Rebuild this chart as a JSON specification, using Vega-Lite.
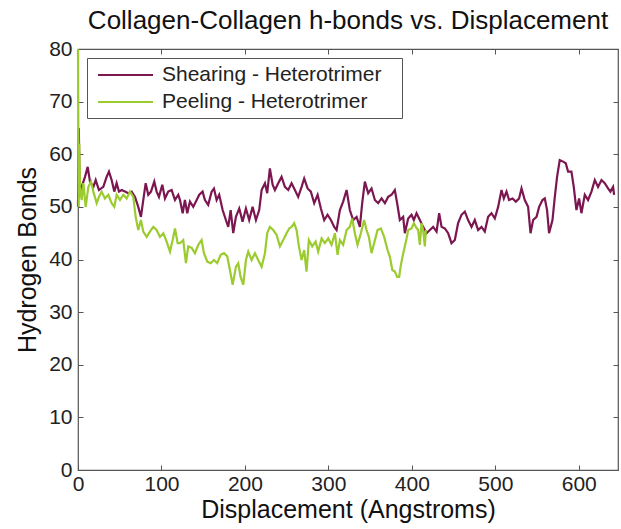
{
  "$schema": "https://vega.github.io/schema/vega-lite/v6.json",
  "width": 540,
  "height": 421,
  "autosize": "none",
  "padding": {"left": 78, "top": 49, "right": 3, "bottom": 59},
  "background": "white",
  "title": {
    "text": "Collagen-Collagen h-bonds vs. Displacement",
    "font": "Liberation Sans",
    "fontSize": 26,
    "fontWeight": "normal",
    "color": "#111",
    "anchor": "middle",
    "baseline": "bottom",
    "offset": 12,
    "dy": 34
  },
  "config": {
    "view": {"stroke": "#555", "strokeWidth": 1.2},
    "axis": {
      "grid": false,
      "domain": false,
      "labelFlush": false,
      "tickColor": "#555",
      "tickSize": -5,
      "labelFont": "Liberation Sans",
      "labelFontSize": 21,
      "labelColor": "#222",
      "titleFont": "Liberation Sans",
      "titleFontSize": 25,
      "titleFontWeight": "normal",
      "titleColor": "#111"
    }
  },
  "datasets": {
    "hb": [
      {"series": "Shearing - Heterotrimer", "x": 0, "y": 50},
      {"series": "Shearing - Heterotrimer", "x": 1, "y": 65},
      {"series": "Shearing - Heterotrimer", "x": 2, "y": 52},
      {"series": "Shearing - Heterotrimer", "x": 4.4, "y": 53.8},
      {"series": "Shearing - Heterotrimer", "x": 8.4, "y": 55.7},
      {"series": "Shearing - Heterotrimer", "x": 11.6, "y": 57.6},
      {"series": "Shearing - Heterotrimer", "x": 14.4, "y": 54.8},
      {"series": "Shearing - Heterotrimer", "x": 18.4, "y": 53.8},
      {"series": "Shearing - Heterotrimer", "x": 21.2, "y": 55.1},
      {"series": "Shearing - Heterotrimer", "x": 25.1, "y": 53.2},
      {"series": "Shearing - Heterotrimer", "x": 30.3, "y": 53.8},
      {"series": "Shearing - Heterotrimer", "x": 34.3, "y": 55.7},
      {"series": "Shearing - Heterotrimer", "x": 37.1, "y": 56.7},
      {"series": "Shearing - Heterotrimer", "x": 40.3, "y": 55.1},
      {"series": "Shearing - Heterotrimer", "x": 43.5, "y": 52.9},
      {"series": "Shearing - Heterotrimer", "x": 46.3, "y": 54.5},
      {"series": "Shearing - Heterotrimer", "x": 49.1, "y": 52.9},
      {"series": "Shearing - Heterotrimer", "x": 52.3, "y": 53.2},
      {"series": "Shearing - Heterotrimer", "x": 56.3, "y": 52.9},
      {"series": "Shearing - Heterotrimer", "x": 60.2, "y": 52.6},
      {"series": "Shearing - Heterotrimer", "x": 64.3, "y": 52.9},
      {"series": "Shearing - Heterotrimer", "x": 68.3, "y": 51.9},
      {"series": "Shearing - Heterotrimer", "x": 72.2, "y": 50.0},
      {"series": "Shearing - Heterotrimer", "x": 75.4, "y": 48.1},
      {"series": "Shearing - Heterotrimer", "x": 78.2, "y": 51.3},
      {"series": "Shearing - Heterotrimer", "x": 81.1, "y": 54.5},
      {"series": "Shearing - Heterotrimer", "x": 84.2, "y": 52.3},
      {"series": "Shearing - Heterotrimer", "x": 87.4, "y": 52.9},
      {"series": "Shearing - Heterotrimer", "x": 91.4, "y": 54.8},
      {"series": "Shearing - Heterotrimer", "x": 94.2, "y": 52.9},
      {"series": "Shearing - Heterotrimer", "x": 97.0, "y": 51.9},
      {"series": "Shearing - Heterotrimer", "x": 101.0, "y": 54.2},
      {"series": "Shearing - Heterotrimer", "x": 104.2, "y": 51.6},
      {"series": "Shearing - Heterotrimer", "x": 108.1, "y": 52.9},
      {"series": "Shearing - Heterotrimer", "x": 112.2, "y": 53.2},
      {"series": "Shearing - Heterotrimer", "x": 116.2, "y": 51.3},
      {"series": "Shearing - Heterotrimer", "x": 120.1, "y": 52.3},
      {"series": "Shearing - Heterotrimer", "x": 122.2, "y": 51.3},
      {"series": "Shearing - Heterotrimer", "x": 125.4, "y": 48.8},
      {"series": "Shearing - Heterotrimer", "x": 128.1, "y": 51.3},
      {"series": "Shearing - Heterotrimer", "x": 130.9, "y": 48.8},
      {"series": "Shearing - Heterotrimer", "x": 134.1, "y": 51.0},
      {"series": "Shearing - Heterotrimer", "x": 138.1, "y": 50.0},
      {"series": "Shearing - Heterotrimer", "x": 142.2, "y": 51.3},
      {"series": "Shearing - Heterotrimer", "x": 145.3, "y": 52.3},
      {"series": "Shearing - Heterotrimer", "x": 149.3, "y": 52.9},
      {"series": "Shearing - Heterotrimer", "x": 152.1, "y": 51.3},
      {"series": "Shearing - Heterotrimer", "x": 156.0, "y": 50.4},
      {"series": "Shearing - Heterotrimer", "x": 160.1, "y": 52.9},
      {"series": "Shearing - Heterotrimer", "x": 162.9, "y": 53.5},
      {"series": "Shearing - Heterotrimer", "x": 166.1, "y": 51.3},
      {"series": "Shearing - Heterotrimer", "x": 169.2, "y": 52.3},
      {"series": "Shearing - Heterotrimer", "x": 173.3, "y": 49.4},
      {"series": "Shearing - Heterotrimer", "x": 177.2, "y": 47.5},
      {"series": "Shearing - Heterotrimer", "x": 180.0, "y": 46.2},
      {"series": "Shearing - Heterotrimer", "x": 182.9, "y": 49.4},
      {"series": "Shearing - Heterotrimer", "x": 186.0, "y": 45.0},
      {"series": "Shearing - Heterotrimer", "x": 189.2, "y": 48.1},
      {"series": "Shearing - Heterotrimer", "x": 193.2, "y": 49.7},
      {"series": "Shearing - Heterotrimer", "x": 197.2, "y": 47.2},
      {"series": "Shearing - Heterotrimer", "x": 201.2, "y": 49.7},
      {"series": "Shearing - Heterotrimer", "x": 205.1, "y": 47.5},
      {"series": "Shearing - Heterotrimer", "x": 209.2, "y": 50.0},
      {"series": "Shearing - Heterotrimer", "x": 213.2, "y": 47.5},
      {"series": "Shearing - Heterotrimer", "x": 217.1, "y": 49.4},
      {"series": "Shearing - Heterotrimer", "x": 220.0, "y": 53.2},
      {"series": "Shearing - Heterotrimer", "x": 224.0, "y": 54.5},
      {"series": "Shearing - Heterotrimer", "x": 226.7, "y": 52.6},
      {"series": "Shearing - Heterotrimer", "x": 229.9, "y": 57.3},
      {"series": "Shearing - Heterotrimer", "x": 233.2, "y": 54.2},
      {"series": "Shearing - Heterotrimer", "x": 235.9, "y": 53.2},
      {"series": "Shearing - Heterotrimer", "x": 239.9, "y": 54.5},
      {"series": "Shearing - Heterotrimer", "x": 243.9, "y": 55.7},
      {"series": "Shearing - Heterotrimer", "x": 247.9, "y": 53.8},
      {"series": "Shearing - Heterotrimer", "x": 251.9, "y": 53.2},
      {"series": "Shearing - Heterotrimer", "x": 255.9, "y": 54.5},
      {"series": "Shearing - Heterotrimer", "x": 259.9, "y": 53.2},
      {"series": "Shearing - Heterotrimer", "x": 263.8, "y": 51.9},
      {"series": "Shearing - Heterotrimer", "x": 267.9, "y": 53.8},
      {"series": "Shearing - Heterotrimer", "x": 271.0, "y": 55.4},
      {"series": "Shearing - Heterotrimer", "x": 275.1, "y": 53.5},
      {"series": "Shearing - Heterotrimer", "x": 279.0, "y": 52.9},
      {"series": "Shearing - Heterotrimer", "x": 283.0, "y": 50.7},
      {"series": "Shearing - Heterotrimer", "x": 287.1, "y": 52.3},
      {"series": "Shearing - Heterotrimer", "x": 291.0, "y": 49.7},
      {"series": "Shearing - Heterotrimer", "x": 295.0, "y": 47.5},
      {"series": "Shearing - Heterotrimer", "x": 299.0, "y": 48.5},
      {"series": "Shearing - Heterotrimer", "x": 303.0, "y": 47.5},
      {"series": "Shearing - Heterotrimer", "x": 307.0, "y": 46.2},
      {"series": "Shearing - Heterotrimer", "x": 309.8, "y": 45.6},
      {"series": "Shearing - Heterotrimer", "x": 313.8, "y": 49.4},
      {"series": "Shearing - Heterotrimer", "x": 317.7, "y": 51.0},
      {"series": "Shearing - Heterotrimer", "x": 321.8, "y": 53.2},
      {"series": "Shearing - Heterotrimer", "x": 325.7, "y": 49.4},
      {"series": "Shearing - Heterotrimer", "x": 329.7, "y": 47.5},
      {"series": "Shearing - Heterotrimer", "x": 333.8, "y": 48.1},
      {"series": "Shearing - Heterotrimer", "x": 337.7, "y": 46.2},
      {"series": "Shearing - Heterotrimer", "x": 340.5, "y": 50.7},
      {"series": "Shearing - Heterotrimer", "x": 343.7, "y": 54.8},
      {"series": "Shearing - Heterotrimer", "x": 347.7, "y": 52.6},
      {"series": "Shearing - Heterotrimer", "x": 351.7, "y": 53.5},
      {"series": "Shearing - Heterotrimer", "x": 355.7, "y": 51.3},
      {"series": "Shearing - Heterotrimer", "x": 359.6, "y": 50.7},
      {"series": "Shearing - Heterotrimer", "x": 363.7, "y": 51.6},
      {"series": "Shearing - Heterotrimer", "x": 367.7, "y": 50.7},
      {"series": "Shearing - Heterotrimer", "x": 371.6, "y": 51.9},
      {"series": "Shearing - Heterotrimer", "x": 375.7, "y": 52.3},
      {"series": "Shearing - Heterotrimer", "x": 379.6, "y": 53.2},
      {"series": "Shearing - Heterotrimer", "x": 382.4, "y": 50.7},
      {"series": "Shearing - Heterotrimer", "x": 385.6, "y": 47.5},
      {"series": "Shearing - Heterotrimer", "x": 389.6, "y": 48.1},
      {"series": "Shearing - Heterotrimer", "x": 391.6, "y": 45.0},
      {"series": "Shearing - Heterotrimer", "x": 395.6, "y": 47.8},
      {"series": "Shearing - Heterotrimer", "x": 399.6, "y": 48.5},
      {"series": "Shearing - Heterotrimer", "x": 402.4, "y": 47.5},
      {"series": "Shearing - Heterotrimer", "x": 405.6, "y": 48.8},
      {"series": "Shearing - Heterotrimer", "x": 409.6, "y": 47.5},
      {"series": "Shearing - Heterotrimer", "x": 413.5, "y": 46.2},
      {"series": "Shearing - Heterotrimer", "x": 417.6, "y": 45.0},
      {"series": "Shearing - Heterotrimer", "x": 421.6, "y": 45.6},
      {"series": "Shearing - Heterotrimer", "x": 425.5, "y": 46.2},
      {"series": "Shearing - Heterotrimer", "x": 429.6, "y": 45.3},
      {"series": "Shearing - Heterotrimer", "x": 432.7, "y": 48.8},
      {"series": "Shearing - Heterotrimer", "x": 435.6, "y": 46.2},
      {"series": "Shearing - Heterotrimer", "x": 439.5, "y": 45.9},
      {"series": "Shearing - Heterotrimer", "x": 443.5, "y": 45.0},
      {"series": "Shearing - Heterotrimer", "x": 447.5, "y": 43.1},
      {"series": "Shearing - Heterotrimer", "x": 451.5, "y": 43.7},
      {"series": "Shearing - Heterotrimer", "x": 455.4, "y": 46.9},
      {"series": "Shearing - Heterotrimer", "x": 459.5, "y": 48.5},
      {"series": "Shearing - Heterotrimer", "x": 463.5, "y": 49.1},
      {"series": "Shearing - Heterotrimer", "x": 467.4, "y": 47.5},
      {"series": "Shearing - Heterotrimer", "x": 471.5, "y": 46.2},
      {"series": "Shearing - Heterotrimer", "x": 475.4, "y": 47.5},
      {"series": "Shearing - Heterotrimer", "x": 479.4, "y": 45.6},
      {"series": "Shearing - Heterotrimer", "x": 483.5, "y": 46.2},
      {"series": "Shearing - Heterotrimer", "x": 487.4, "y": 45.3},
      {"series": "Shearing - Heterotrimer", "x": 491.4, "y": 48.1},
      {"series": "Shearing - Heterotrimer", "x": 495.4, "y": 48.8},
      {"series": "Shearing - Heterotrimer", "x": 499.4, "y": 47.8},
      {"series": "Shearing - Heterotrimer", "x": 503.4, "y": 50.0},
      {"series": "Shearing - Heterotrimer", "x": 507.4, "y": 53.2},
      {"series": "Shearing - Heterotrimer", "x": 510.2, "y": 51.6},
      {"series": "Shearing - Heterotrimer", "x": 513.4, "y": 52.9},
      {"series": "Shearing - Heterotrimer", "x": 516.5, "y": 51.3},
      {"series": "Shearing - Heterotrimer", "x": 520.6, "y": 51.6},
      {"series": "Shearing - Heterotrimer", "x": 524.6, "y": 51.0},
      {"series": "Shearing - Heterotrimer", "x": 528.5, "y": 51.6},
      {"series": "Shearing - Heterotrimer", "x": 531.4, "y": 53.5},
      {"series": "Shearing - Heterotrimer", "x": 535.3, "y": 51.3},
      {"series": "Shearing - Heterotrimer", "x": 539.3, "y": 50.0},
      {"series": "Shearing - Heterotrimer", "x": 542.2, "y": 45.0},
      {"series": "Shearing - Heterotrimer", "x": 545.3, "y": 47.5},
      {"series": "Shearing - Heterotrimer", "x": 549.4, "y": 48.1},
      {"series": "Shearing - Heterotrimer", "x": 552.5, "y": 50.0},
      {"series": "Shearing - Heterotrimer", "x": 556.5, "y": 51.3},
      {"series": "Shearing - Heterotrimer", "x": 559.3, "y": 51.6},
      {"series": "Shearing - Heterotrimer", "x": 562.0, "y": 49.4},
      {"series": "Shearing - Heterotrimer", "x": 564.4, "y": 45.0},
      {"series": "Shearing - Heterotrimer", "x": 568.5, "y": 47.5},
      {"series": "Shearing - Heterotrimer", "x": 571.3, "y": 51.9},
      {"series": "Shearing - Heterotrimer", "x": 574.0, "y": 55.7},
      {"series": "Shearing - Heterotrimer", "x": 577.2, "y": 58.9},
      {"series": "Shearing - Heterotrimer", "x": 581.2, "y": 58.6},
      {"series": "Shearing - Heterotrimer", "x": 584.4, "y": 58.3},
      {"series": "Shearing - Heterotrimer", "x": 587.2, "y": 56.7},
      {"series": "Shearing - Heterotrimer", "x": 591.2, "y": 56.7},
      {"series": "Shearing - Heterotrimer", "x": 594.0, "y": 53.8},
      {"series": "Shearing - Heterotrimer", "x": 597.2, "y": 49.4},
      {"series": "Shearing - Heterotrimer", "x": 600.4, "y": 51.6},
      {"series": "Shearing - Heterotrimer", "x": 603.2, "y": 48.8},
      {"series": "Shearing - Heterotrimer", "x": 607.2, "y": 52.3},
      {"series": "Shearing - Heterotrimer", "x": 611.1, "y": 51.3},
      {"series": "Shearing - Heterotrimer", "x": 615.2, "y": 52.9},
      {"series": "Shearing - Heterotrimer", "x": 619.2, "y": 55.1},
      {"series": "Shearing - Heterotrimer", "x": 623.1, "y": 53.8},
      {"series": "Shearing - Heterotrimer", "x": 627.2, "y": 55.1},
      {"series": "Shearing - Heterotrimer", "x": 631.1, "y": 54.5},
      {"series": "Shearing - Heterotrimer", "x": 635.1, "y": 53.5},
      {"series": "Shearing - Heterotrimer", "x": 637.9, "y": 52.9},
      {"series": "Shearing - Heterotrimer", "x": 641.1, "y": 53.8},
      {"series": "Shearing - Heterotrimer", "x": 642.3, "y": 52.3},
      {"series": "Peeling - Heterotrimer", "x": 0, "y": 80},
      {"series": "Peeling - Heterotrimer", "x": 0.8, "y": 50},
      {"series": "Peeling - Heterotrimer", "x": 1.5, "y": 62},
      {"series": "Peeling - Heterotrimer", "x": 2.4, "y": 53.8},
      {"series": "Peeling - Heterotrimer", "x": 4.4, "y": 51.3},
      {"series": "Peeling - Heterotrimer", "x": 6.4, "y": 54.5},
      {"series": "Peeling - Heterotrimer", "x": 9.2, "y": 50.0},
      {"series": "Peeling - Heterotrimer", "x": 12.4, "y": 53.8},
      {"series": "Peeling - Heterotrimer", "x": 15.6, "y": 54.8},
      {"series": "Peeling - Heterotrimer", "x": 18.4, "y": 52.9},
      {"series": "Peeling - Heterotrimer", "x": 22.4, "y": 50.7},
      {"series": "Peeling - Heterotrimer", "x": 25.1, "y": 51.9},
      {"series": "Peeling - Heterotrimer", "x": 28.3, "y": 52.9},
      {"series": "Peeling - Heterotrimer", "x": 32.3, "y": 51.6},
      {"series": "Peeling - Heterotrimer", "x": 36.3, "y": 52.3},
      {"series": "Peeling - Heterotrimer", "x": 40.3, "y": 50.7},
      {"series": "Peeling - Heterotrimer", "x": 43.5, "y": 50.0},
      {"series": "Peeling - Heterotrimer", "x": 46.3, "y": 52.3},
      {"series": "Peeling - Heterotrimer", "x": 50.3, "y": 51.3},
      {"series": "Peeling - Heterotrimer", "x": 54.3, "y": 52.3},
      {"series": "Peeling - Heterotrimer", "x": 58.3, "y": 51.6},
      {"series": "Peeling - Heterotrimer", "x": 62.3, "y": 52.9},
      {"series": "Peeling - Heterotrimer", "x": 66.2, "y": 51.9},
      {"series": "Peeling - Heterotrimer", "x": 69.1, "y": 48.1},
      {"series": "Peeling - Heterotrimer", "x": 72.2, "y": 45.6},
      {"series": "Peeling - Heterotrimer", "x": 75.4, "y": 47.5},
      {"series": "Peeling - Heterotrimer", "x": 78.2, "y": 45.3},
      {"series": "Peeling - Heterotrimer", "x": 82.3, "y": 44.3},
      {"series": "Peeling - Heterotrimer", "x": 86.2, "y": 45.3},
      {"series": "Peeling - Heterotrimer", "x": 90.2, "y": 46.2},
      {"series": "Peeling - Heterotrimer", "x": 94.2, "y": 45.6},
      {"series": "Peeling - Heterotrimer", "x": 98.2, "y": 44.3},
      {"series": "Peeling - Heterotrimer", "x": 102.2, "y": 45.0},
      {"series": "Peeling - Heterotrimer", "x": 106.2, "y": 43.4},
      {"series": "Peeling - Heterotrimer", "x": 110.2, "y": 41.5},
      {"series": "Peeling - Heterotrimer", "x": 113.4, "y": 43.7},
      {"series": "Peeling - Heterotrimer", "x": 116.2, "y": 45.9},
      {"series": "Peeling - Heterotrimer", "x": 119.4, "y": 43.1},
      {"series": "Peeling - Heterotrimer", "x": 122.2, "y": 43.1},
      {"series": "Peeling - Heterotrimer", "x": 126.1, "y": 43.7},
      {"series": "Peeling - Heterotrimer", "x": 129.3, "y": 39.3},
      {"series": "Peeling - Heterotrimer", "x": 132.1, "y": 42.5},
      {"series": "Peeling - Heterotrimer", "x": 136.2, "y": 42.2},
      {"series": "Peeling - Heterotrimer", "x": 140.1, "y": 41.2},
      {"series": "Peeling - Heterotrimer", "x": 144.1, "y": 42.8},
      {"series": "Peeling - Heterotrimer", "x": 148.1, "y": 43.7},
      {"series": "Peeling - Heterotrimer", "x": 150.9, "y": 41.2},
      {"series": "Peeling - Heterotrimer", "x": 154.9, "y": 39.6},
      {"series": "Peeling - Heterotrimer", "x": 158.9, "y": 39.3},
      {"series": "Peeling - Heterotrimer", "x": 162.9, "y": 39.9},
      {"series": "Peeling - Heterotrimer", "x": 166.8, "y": 39.3},
      {"series": "Peeling - Heterotrimer", "x": 170.9, "y": 40.9},
      {"series": "Peeling - Heterotrimer", "x": 174.9, "y": 41.2},
      {"series": "Peeling - Heterotrimer", "x": 178.8, "y": 40.6},
      {"series": "Peeling - Heterotrimer", "x": 182.0, "y": 38.0},
      {"series": "Peeling - Heterotrimer", "x": 185.3, "y": 35.2},
      {"series": "Peeling - Heterotrimer", "x": 189.2, "y": 38.6},
      {"series": "Peeling - Heterotrimer", "x": 192.0, "y": 39.3},
      {"series": "Peeling - Heterotrimer", "x": 194.8, "y": 36.7},
      {"series": "Peeling - Heterotrimer", "x": 198.0, "y": 35.2},
      {"series": "Peeling - Heterotrimer", "x": 201.2, "y": 39.9},
      {"series": "Peeling - Heterotrimer", "x": 204.0, "y": 41.5},
      {"series": "Peeling - Heterotrimer", "x": 208.0, "y": 39.9},
      {"series": "Peeling - Heterotrimer", "x": 212.0, "y": 41.2},
      {"series": "Peeling - Heterotrimer", "x": 215.9, "y": 39.9},
      {"series": "Peeling - Heterotrimer", "x": 220.0, "y": 38.6},
      {"series": "Peeling - Heterotrimer", "x": 224.0, "y": 41.2},
      {"series": "Peeling - Heterotrimer", "x": 226.7, "y": 45.0},
      {"series": "Peeling - Heterotrimer", "x": 229.9, "y": 46.2},
      {"series": "Peeling - Heterotrimer", "x": 233.9, "y": 45.6},
      {"series": "Peeling - Heterotrimer", "x": 237.9, "y": 44.7},
      {"series": "Peeling - Heterotrimer", "x": 241.9, "y": 42.5},
      {"series": "Peeling - Heterotrimer", "x": 245.9, "y": 43.7},
      {"series": "Peeling - Heterotrimer", "x": 249.9, "y": 45.0},
      {"series": "Peeling - Heterotrimer", "x": 253.1, "y": 45.9},
      {"series": "Peeling - Heterotrimer", "x": 255.9, "y": 46.2},
      {"series": "Peeling - Heterotrimer", "x": 259.0, "y": 46.9},
      {"series": "Peeling - Heterotrimer", "x": 261.9, "y": 45.6},
      {"series": "Peeling - Heterotrimer", "x": 264.7, "y": 42.5},
      {"series": "Peeling - Heterotrimer", "x": 267.9, "y": 39.9},
      {"series": "Peeling - Heterotrimer", "x": 271.0, "y": 41.8},
      {"series": "Peeling - Heterotrimer", "x": 273.8, "y": 37.7},
      {"series": "Peeling - Heterotrimer", "x": 276.6, "y": 43.7},
      {"series": "Peeling - Heterotrimer", "x": 280.6, "y": 42.5},
      {"series": "Peeling - Heterotrimer", "x": 284.7, "y": 43.4},
      {"series": "Peeling - Heterotrimer", "x": 287.8, "y": 41.5},
      {"series": "Peeling - Heterotrimer", "x": 291.9, "y": 44.0},
      {"series": "Peeling - Heterotrimer", "x": 295.8, "y": 43.1},
      {"series": "Peeling - Heterotrimer", "x": 299.8, "y": 44.0},
      {"series": "Peeling - Heterotrimer", "x": 303.8, "y": 42.8},
      {"series": "Peeling - Heterotrimer", "x": 307.8, "y": 45.0},
      {"series": "Peeling - Heterotrimer", "x": 311.0, "y": 40.9},
      {"series": "Peeling - Heterotrimer", "x": 313.8, "y": 43.7},
      {"series": "Peeling - Heterotrimer", "x": 317.7, "y": 42.8},
      {"series": "Peeling - Heterotrimer", "x": 321.8, "y": 45.6},
      {"series": "Peeling - Heterotrimer", "x": 325.7, "y": 46.2},
      {"series": "Peeling - Heterotrimer", "x": 328.5, "y": 47.8},
      {"series": "Peeling - Heterotrimer", "x": 331.7, "y": 45.0},
      {"series": "Peeling - Heterotrimer", "x": 334.9, "y": 42.8},
      {"series": "Peeling - Heterotrimer", "x": 338.9, "y": 45.0},
      {"series": "Peeling - Heterotrimer", "x": 342.8, "y": 47.5},
      {"series": "Peeling - Heterotrimer", "x": 345.7, "y": 45.6},
      {"series": "Peeling - Heterotrimer", "x": 348.5, "y": 44.3},
      {"series": "Peeling - Heterotrimer", "x": 351.7, "y": 41.2},
      {"series": "Peeling - Heterotrimer", "x": 354.8, "y": 43.1},
      {"series": "Peeling - Heterotrimer", "x": 358.9, "y": 45.6},
      {"series": "Peeling - Heterotrimer", "x": 362.9, "y": 45.9},
      {"series": "Peeling - Heterotrimer", "x": 366.8, "y": 44.3},
      {"series": "Peeling - Heterotrimer", "x": 370.9, "y": 41.8},
      {"series": "Peeling - Heterotrimer", "x": 373.7, "y": 40.5},
      {"series": "Peeling - Heterotrimer", "x": 376.6, "y": 38.0},
      {"series": "Peeling - Heterotrimer", "x": 379.6, "y": 37.7},
      {"series": "Peeling - Heterotrimer", "x": 382.4, "y": 36.7},
      {"series": "Peeling - Heterotrimer", "x": 384.8, "y": 36.7},
      {"series": "Peeling - Heterotrimer", "x": 386.5, "y": 38.6},
      {"series": "Peeling - Heterotrimer", "x": 388.9, "y": 40.6},
      {"series": "Peeling - Heterotrimer", "x": 391.6, "y": 42.5},
      {"series": "Peeling - Heterotrimer", "x": 393.7, "y": 44.0},
      {"series": "Peeling - Heterotrimer", "x": 395.6, "y": 45.6},
      {"series": "Peeling - Heterotrimer", "x": 399.6, "y": 45.9},
      {"series": "Peeling - Heterotrimer", "x": 402.4, "y": 46.9},
      {"series": "Peeling - Heterotrimer", "x": 404.8, "y": 46.2},
      {"series": "Peeling - Heterotrimer", "x": 407.5, "y": 45.6},
      {"series": "Peeling - Heterotrimer", "x": 409.6, "y": 42.8},
      {"series": "Peeling - Heterotrimer", "x": 411.6, "y": 46.9},
      {"series": "Peeling - Heterotrimer", "x": 413.5, "y": 45.6},
      {"series": "Peeling - Heterotrimer", "x": 415.6, "y": 42.5},
      {"series": "Peeling - Heterotrimer", "x": 416.8, "y": 45.6}
    ]
  },
  "data": {"name": "hb"},
  "layer": [
    {
      "mark": {"type": "line", "strokeWidth": 2.2, "interpolate": "linear"},
      "encoding": {
        "x": {
          "field": "x", "type": "quantitative",
          "scale": {"domain": [0, 647], "nice": false, "zero": false},
          "axis": {"orient": "bottom", "values": [0, 100, 200, 300, 400, 500, 600], "labelPadding": 8.5, "title": "Displacement (Angstroms)", "titlePadding": 3}
        },
        "y": {
          "field": "y", "type": "quantitative",
          "scale": {"domain": [0, 80], "nice": false},
          "axis": {"orient": "left", "values": [0, 10, 20, 30, 40, 50, 60, 70, 80], "labelPadding": 11, "title": "Hydrogen Bonds", "titlePadding": 8}
        },
        "color": {
          "field": "series", "type": "nominal",
          "scale": {"domain": ["Shearing - Heterotrimer", "Peeling - Heterotrimer"], "range": ["#7B1650", "#9BCB2F"]},
          "legend": {
            "title": "\u00a0",
            "titleOrient": "right",
            "titlePadding": 15,
            "titleFontSize": 21,
            "orient": "none",
            "legendX": 9,
            "legendY": 9,
            "direction": "vertical",
            "symbolType": "M-2.75,0H2.75",
            "symbolSize": 400,
            "symbolStrokeWidth": 2,
            "symbolOffset": 21.5,
            "labelFont": "Liberation Sans",
            "labelFontSize": 21,
            "labelColor": "#222",
            "labelOffset": 25.5,
            "rowPadding": 6,
            "padding": 6,
            "strokeColor": "#555",
            "fillColor": "white",
            "labelLimit": 400
          }
        }
      }
    },
    {
      "mark": {"type": "line", "strokeOpacity": 0},
      "encoding": {
        "x": {
          "field": "x", "type": "quantitative",
          "axis": {"orient": "top", "values": [0, 100, 200, 300, 400, 500, 600], "labels": false, "title": null}
        },
        "y": {
          "field": "y", "type": "quantitative",
          "axis": {"orient": "right", "values": [0, 10, 20, 30, 40, 50, 60, 70, 80], "labels": false, "title": null}
        },
        "detail": {"field": "series"}
      }
    }
  ],
  "resolve": {"axis": {"x": "independent", "y": "independent"}}
}
